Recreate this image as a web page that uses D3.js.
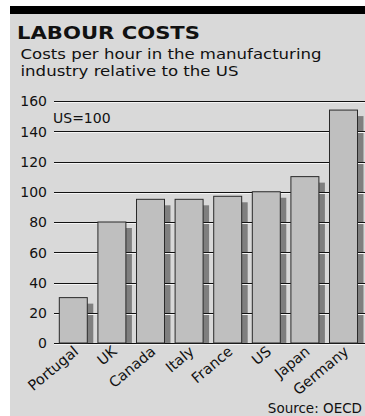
<!DOCTYPE html>
<html>
<head>
<meta charset="utf-8">
<script src="https://cdn.jsdelivr.net/npm/d3@7"></script>
<style>
  html, body { margin: 0; padding: 0; background: #fff; }
  svg { display: block; }
  text { font-family: "DejaVu Sans", sans-serif; fill: #111; }
</style>
</head>
<body>
<svg width="365" height="416"></svg>
<script>
var countries = ["Portugal", "UK", "Canada", "Italy", "France", "US", "Japan", "Germany"];
var costs = [30, 80, 95, 95, 97, 100, 110, 154];
var yTicks = [0, 20, 40, 60, 80, 100, 120, 140, 160];

var svg = d3.select("svg"),
    width = +svg.attr("width"),
    height = +svg.attr("height");

// panel
svg.append("rect").attr("x", 10).attr("y", 6).attr("width", width - 10).attr("height", height - 6).attr("fill", "#d9d9d9");
svg.append("rect").attr("x", 10).attr("y", 6).attr("width", width - 10).attr("height", 8).attr("fill", "#000");

svg.append("text")
    .attr("x", 17).attr("y", 38.5)
    .attr("font-size", 18.5).attr("font-weight", "bold")
    .attr("textLength", 183).attr("lengthAdjust", "spacingAndGlyphs")
    .text("LABOUR COSTS");

svg.append("text").attr("x", 20.5).attr("y", 59).attr("font-size", 14.6)
    .attr("textLength", 301).attr("lengthAdjust", "spacingAndGlyphs")
    .text("Costs per hour in the manufacturing");
svg.append("text").attr("x", 20.5).attr("y", 76).attr("font-size", 14.6)
    .attr("textLength", 218).attr("lengthAdjust", "spacingAndGlyphs")
    .text("industry relative to the US");

var x = d3.scaleBand()
    .domain(countries)
    .range([54, 54 + 8 * 38.6])
    .paddingInner(0.275)
    .paddingOuter(0.1375);

var y = d3.scaleLinear().domain([0, 160]).range([343, 101]);

var data = countries.map(function(c, i) { return { name: c, value: costs[i] }; });

// shadows
svg.append("g").selectAll("rect")
  .data(data)
  .enter().append("rect")
    .attr("x", function(d) { return x(d.name) + 6; })
    .attr("y", function(d) { return y(d.value) + 6; })
    .attr("width", x.bandwidth())
    .attr("height", function(d) { return y(0) - y(d.value) - 6; })
    .attr("fill", "#7f7f7f");

// gridlines
var grid = svg.append("g");
grid.selectAll("line.w")
  .data(yTicks)
  .enter().append("line")
    .attr("class", "w")
    .attr("x1", 54).attr("x2", width)
    .attr("y1", function(d) { return Math.round(y(d)) + 1.5; })
    .attr("y2", function(d) { return Math.round(y(d)) + 1.5; })
    .attr("stroke", "#f4f4f4").attr("stroke-width", 1);
grid.selectAll("line.k")
  .data(yTicks)
  .enter().append("line")
    .attr("class", "k")
    .attr("x1", 54).attr("x2", width)
    .attr("y1", function(d) { return Math.round(y(d)) + 0.5; })
    .attr("y2", function(d) { return Math.round(y(d)) + 0.5; })
    .attr("stroke", "#111").attr("stroke-width", 1.2);

// bars
svg.append("g").selectAll("rect")
  .data(data)
  .enter().append("rect")
    .attr("x", function(d) { return x(d.name); })
    .attr("y", function(d) { return y(d.value); })
    .attr("width", x.bandwidth())
    .attr("height", function(d) { return y(0) - y(d.value); })
    .attr("fill", "#bfbfbf")
    .attr("stroke", "#2a2a2a")
    .attr("stroke-width", 1);

// y labels
svg.append("g").selectAll("text")
  .data(yTicks)
  .enter().append("text")
    .attr("x", 47)
    .attr("y", function(d) { return y(d); })
    .attr("dy", "0.38em")
    .attr("text-anchor", "end")
    .attr("font-size", 14)
    .text(function(d) { return d; });

svg.append("text").attr("x", 53).attr("y", 123).attr("font-size", 14).text("US=100");

// x labels
svg.append("g").selectAll("text")
  .data(countries)
  .enter().append("text")
    .attr("text-anchor", "end")
    .attr("font-size", 14.5)
    .attr("transform", function(d) {
      return "translate(" + (x(d) + x.bandwidth() / 2 + 6) + ",353) rotate(-40)";
    })
    .text(function(d) { return d; });

svg.append("text").attr("x", 362).attr("y", 413).attr("font-size", 13.5)
    .attr("text-anchor", "end").text("Source: OECD");
</script>
</body>
</html>
